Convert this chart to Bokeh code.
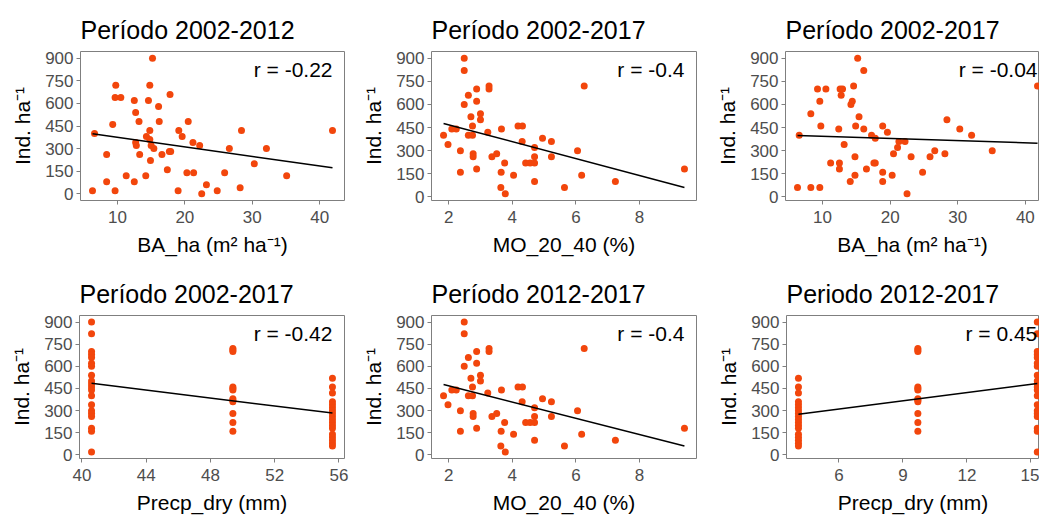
import numpy as np
from bokeh.plotting import figure
from bokeh.layouts import column, row
from bokeh.models import Range1d, FixedTicker, Label
from bokeh.embed import file_html
from bokeh.resources import INLINE

# ---------------------------------------------------------------- data
# Basal area (m2/ha) vs. density, 2002-2012
ba_2002_2012 = [6.3, 6.6, 8.4, 8.4, 9.3, 9.65, 9.75, 9.65, 10.5, 11.3, 12.5, 12.5,
                12.7, 12.7, 12.8, 13.2, 13.3, 14.2, 14.3, 14.6, 14.8, 14.8, 14.8,
                14.9, 15.0, 15.2, 15.4, 16.1, 16.2, 16.6, 17.4, 17.7, 17.9, 17.8,
                19.0, 19.1, 19.6, 20.3, 20.5, 21.2, 21.3, 22.2, 22.5, 23.2, 24.8,
                25.9, 26.6, 28.2, 28.4, 30.3, 32.1, 35.1, 41.9]
ind_ba_2002_2012 = [20, 400, 260, 80, 460, 20, 720, 640, 640, 120, 620, 80,
                    540, 340, 320, 480, 260, 120, 380, 620, 720, 420, 360,
                    220, 320, 900, 300, 580, 480, 260, 160, 280, 280, 660,
                    20, 420, 380, 140, 480, 340, 140, 320, 0, 60, 20,
                    140, 300, 40, 420, 200, 300, 120, 420]

# Organic matter 20-40 cm (%) vs. density (shared by both MO panels)
mo_20_40 = [1.84, 1.98, 2.1, 2.24, 2.37, 2.37, 2.49, 2.49, 2.49, 2.62, 2.62, 2.7,
            2.75, 2.75, 2.77, 2.77, 2.88, 2.88, 2.88, 3.0, 3.0, 3.27, 3.27, 3.23,
            3.36, 3.51, 3.66, 3.64, 3.76, 3.65, 3.78, 4.04, 4.18, 4.32, 4.31,
            4.42, 4.56, 4.7, 4.7, 4.7, 4.7, 4.95, 5.23, 5.23, 5.64, 6.05, 6.18,
            6.26, 7.24, 9.41]
ind_mo = [400, 340, 440, 440, 300, 160, 900, 820, 600, 660, 400, 520,
          460, 400, 280, 260, 700, 620, 180, 540, 500, 720, 700, 420,
          260, 280, 440, 60, 220, 160, 20, 140, 460, 460, 360,
          220, 220, 220, 320, 260, 100, 380, 360, 260, 60, 300, 140,
          720, 100, 180]

# Basal area (m2/ha) vs. density, 2002-2017
ba_2002_2017 = [6.3, 6.55, 8.27, 8.27, 9.26, 9.6, 9.6, 9.75, 10.5, 11.2, 12.4, 12.5,
                12.5, 12.6, 12.76, 12.96, 13.2, 14.1, 14.2, 14.4, 14.6, 14.8, 14.8,
                14.9, 15.2, 15.4, 16.1, 16.1, 16.5, 17.25, 17.6, 17.8, 17.8, 18.9,
                18.9, 18.9, 19.6, 20.3, 20.5, 21.1, 21.3, 22.2, 22.5, 23.1, 24.8,
                25.9, 26.6, 28.1, 28.4, 30.3, 32.05, 35.1, 41.8]
ind_ba_2002_2017 = [60, 400, 60, 540, 700, 60, 620, 460, 700, 220, 440, 220,
                    180, 700, 660, 700, 340, 100, 600, 620, 720, 260, 140,
                    460, 900, 520, 820, 440, 180, 400, 220, 220, 380, 460,
                    160, 100, 420, 140, 280, 320, 360, 360, 20, 260, 160,
                    260, 300, 280, 500, 440, 400, 300, 720]

# Dry-season precipitation groups (density per site within each group)
ind_group_a = [900, 820, 700, 680, 660, 620, 600, 540, 500, 480, 460, 440, 400,
               340, 300, 280, 260, 180, 160, 20]
ind_group_b = [720, 710, 700, 460, 450, 440, 380, 370, 360, 280, 220, 160]
ind_group_c = [520, 460, 420, 360, 340, 320, 300, 280, 260, 240, 220, 200, 180,
               140, 120, 100, 80, 60]
precp_2002_2017 = [40.6, 49.4, 55.6]   # groups a, b, c
precp_2012_2017 = [15.3, 9.7, 4.1]     # groups a, b, c

titles = ["Período 2002-2012", "Período 2002-2017", "Período 2002-2017",
          "Período 2002-2017", "Período 2012-2017", "Periodo 2012-2017"]
x_labels = ["BA_ha (m² ha⁻¹)", "MO_20_40 (%)", "BA_ha (m² ha⁻¹)",
            "Precp_dry (mm)", "MO_20_40 (%)", "Precp_dry (mm)"]
y_label = "Ind. ha⁻¹"
r_labels = ["r = -0.22", "r = -0.4", "r = -0.04", "r = -0.42", "r = -0.4", "r = 0.45"]
y_ticks = [0, 150, 300, 450, 600, 750, 900]
x_ticks = [[10, 20, 30, 40], [2, 4, 6, 8], [10, 20, 30, 40],
           [40, 44, 48, 52, 56], [2, 4, 6, 8], [6, 9, 12, 15]]

# ---------------------------------------------------------------- styling
FONT = "Liberation Sans"
POINT_COLOR = "#F2460C"
BORDER = "#7F7F7F"
TICK_TEXT = "#4D4D4D"


def expand(vals, frac=0.05):
    lo, hi = min(vals), max(vals)
    pad = (hi - lo) * frac
    return lo - pad, hi + pad


def grouped(levels, groups):
    xs, ys = [], []
    for lv, g in zip(levels, groups):
        xs += [lv] * len(g)
        ys += list(g)
    return xs, ys


def panel(i, xs, ys, width, left, right, height, top, bottom, visible=1.0):
    x0, x1 = expand(xs)
    x1 = x0 + (x1 - x0) * visible
    y0, y1 = expand(ys)
    p = figure(width=width, height=height, output_backend="svg",
               toolbar_location=None,
               x_range=Range1d(x0, x1), y_range=Range1d(y0, y1),
               min_border_left=left, min_border_right=right,
               min_border_top=top, min_border_bottom=bottom)
    p.title.text = titles[i]
    p.title.text_font = FONT
    p.title.text_font_size = "25px"
    p.title.text_font_style = "normal"
    p.title.text_color = "black"
    p.title.align = "left"
    p.title.standoff = 15

    p.xgrid.visible = False
    p.ygrid.visible = False
    p.outline_line_color = BORDER
    p.outline_line_width = 1
    p.background_fill_color = "white"
    p.border_fill_color = "white"

    for ax in (p.xaxis, p.yaxis):
        ax.axis_line_color = None
        ax.major_tick_line_color = BORDER
        ax.major_tick_in = 0
        ax.major_tick_out = 4
        ax.minor_tick_line_color = None
        ax.major_label_text_font = FONT
        ax.major_label_text_font_size = "17px"
        ax.major_label_text_color = TICK_TEXT
        ax.axis_label_text_font = FONT
        ax.axis_label_text_font_size = "21px"
        ax.axis_label_text_font_style = "normal"
        ax.axis_label_text_color = "black"
    p.xaxis.ticker = FixedTicker(ticks=x_ticks[i])
    p.yaxis.ticker = FixedTicker(ticks=y_ticks)
    p.xaxis.axis_label = x_labels[i]
    p.yaxis.axis_label = y_label
    p.xaxis.major_label_standoff = 6
    p.yaxis.major_label_standoff = 3
    p.xaxis.axis_label_standoff = 7
    p.yaxis.axis_label_standoff = 8

    p.scatter(xs, ys, size=7, fill_color=POINT_COLOR, line_color=None)

    slope, icpt = np.polyfit(xs, ys, 1)
    xl = [min(xs), max(xs)]
    p.line(xl, [icpt + slope * v for v in xl], line_color="black", line_width=1.5)

    p.add_layout(Label(x=max(xs), y=max(ys), text=r_labels[i],
                       text_align="right", text_baseline="top",
                       text_font=FONT, text_font_size="21px", text_color="black"))
    return p


x4, y4 = grouped(precp_2002_2017, [ind_group_a, ind_group_b, ind_group_c])
x6, y6 = grouped(precp_2012_2017, [ind_group_a, ind_group_b, ind_group_c])

p1 = panel(0, ba_2002_2012, ind_ba_2002_2012, 350, 80, 6, 258, 51, 55)
p2 = panel(1, mo_20_40, ind_mo, 350, 81, 4, 258, 51, 55)
p3 = panel(2, ba_2002_2017, ind_ba_2002_2017, 339, 85, 0, 258, 51, 55, visible=0.962)
p4 = panel(3, x4, y4, 350, 79, 6, 258, 57, 50)
p5 = panel(4, mo_20_40, ind_mo, 350, 81, 4, 258, 57, 50)
p6 = panel(5, x6, y6, 339, 86, 0, 258, 57, 50, visible=0.963)

layout = column(row(p1, p2, p3), row(p4, p5, p6))

open("out.html", "w").write(file_html(layout, INLINE))
